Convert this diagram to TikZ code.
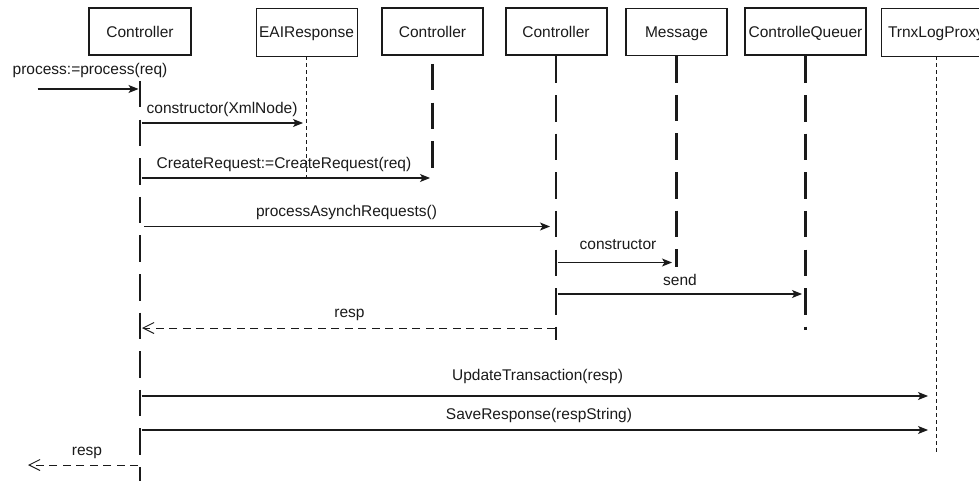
\documentclass[tikz,border=0pt]{standalone}
\usepackage{fontspec}
\setmainfont{Liberation Sans}
\usetikzlibrary{arrows.meta}
\definecolor{ink}{HTML}{1A1A1A}

\begin{document}
\begin{tikzpicture}[x=1pt,y=-1pt,
  font=\fontsize{15.5}{18}\selectfont,
  obj/.style={draw=ink, line width=2pt, minimum height=47pt, inner sep=0pt, text=ink,
              text height=11.2pt, text depth=0pt},
  objthin/.style={obj, line width=0.9pt, minimum height=48pt},
  life/.style={draw=ink, line width=2.6pt, dash pattern=on 26.5pt off 12.1pt},
  lifethin/.style={draw=ink, line width=0.9pt, dash pattern=on 4pt off 3pt},
  call/.style={draw=ink, line width=1.1pt, -{Stealth[length=10pt,width=8pt,inset=2.5pt]}},
  reply/.style={draw=ink, line width=1pt, dash pattern=on 8pt off 5.5pt,
                -{Straight Barb[length=11pt,width=11pt]}},
  lbl/.style={anchor=base, inner sep=0pt, text=ink},
  lblw/.style={lbl, anchor=base west}
]
\useasboundingbox (0,0) rectangle (979,481);

% participants
\node[obj, minimum width=102pt]                 (c1)  at (140,32)   {Controller};
\node[objthin, minimum width=101pt]             (eai) at (306.5,32) {EAIResponse};
\node[obj, minimum width=101pt]                 (c2)  at (432.5,32) {Controller};
\node[obj, minimum width=101pt]                 (c3)  at (556,32)   {Controller};
\node[obj, line width=1.6pt, minimum width=101pt] (msg) at (676.5,32) {Message};
\node[obj, minimum width=121pt]                 (cq)  at (805.5,32) {ControlleQueuer};
\node[objthin, minimum width=110pt]             (tlp) at (936,32)   {TrnxLogProxy};

% lifeline ends
\coordinate (c1top)  at (140,81);   \coordinate (c1bot)  at (140,481);
\coordinate (eaibot) at (306.5,178);
\coordinate (c2top)  at (432.5,64); \coordinate (c2bot)  at (432.5,168.5);
\coordinate (c3bot)  at (556,340);
\coordinate (msgbot) at (676.5,267);
\coordinate (cqbot)  at (805.5,330);
\coordinate (tlpbot) at (936,452);

% lifelines
\draw[life]     (c1top) -- (c1bot);
\draw[lifethin] (eai.south) -- (eaibot);
\draw[life]     (c2top) -- (c2bot);
\draw[life]     (c3.south) -- (c3bot);
\draw[life]     (msg.south) -- (msgbot);
\draw[life]     (cq.south) -- (cqbot);
\draw[lifethin] (tlp.south) -- (tlpbot);

% message end points
\coordinate (m1s)  at (37.5,89);   \coordinate (m1e)  at (138.5,89);
\coordinate (m2s)  at (141.5,123); \coordinate (m2e)  at (303,123);
\coordinate (m3s)  at (141.5,178); \coordinate (m3e)  at (430,178);
\coordinate (m4s)  at (144,226.5); \coordinate (m4e)  at (550,226.5);
\coordinate (m5s)  at (557.5,262.5); \coordinate (m5e) at (672,262.5);
\coordinate (m6s)  at (557.5,294); \coordinate (m6e)  at (802,294);
\coordinate (r1s)  at (555,328);   \coordinate (r1e)  at (142,328);
\coordinate (m7s)  at (141.5,396); \coordinate (m7e)  at (928,396);
\coordinate (m8s)  at (141.5,430); \coordinate (m8e)  at (928,430);
\coordinate (r2s)  at (138,465);   \coordinate (r2e)  at (28,465);

% messages
\draw[call]  (m1s) -- (m1e);
\draw[call]  (m2s) -- (m2e);
\draw[call]  (m3s) -- (m3e);
\draw[call]  (m4s) -- (m4e);
\draw[call]  (m5s) -- (m5e);
\draw[call]  (m6s) -- (m6e);
\draw[reply] (r1s) -- (r1e);
\draw[call]  (m7s) -- (m7e);
\draw[call]  (m8s) -- (m8e);
\draw[reply] (r2s) -- (r2e);

% labels
\node[lblw] (t1)  at (12.5,75)    {process:=process(req)};
\node[lblw] (t2)  at (146.5,113.5){constructor(XmlNode)};
\node[lblw] (t3)  at (156.5,169)  {CreateRequest:=CreateRequest(req)};
\node[lbl]  (t4)  at (346.5,216.5){processAsynchRequests()};
\node[lbl]  (t5)  at (618,249)    {constructor};
\node[lbl]  (t6)  at (680,285)    {send};
\node[lbl]  (t7)  at (349.5,317)  {resp};
\node[lbl]  (t8)  at (537.5,380.5){UpdateTransaction(resp)};
\node[lbl]  (t9)  at (539,419)    {SaveResponse(respString)};
\node[lbl]  (t10) at (87,455)     {resp};
\end{tikzpicture}
\end{document}
